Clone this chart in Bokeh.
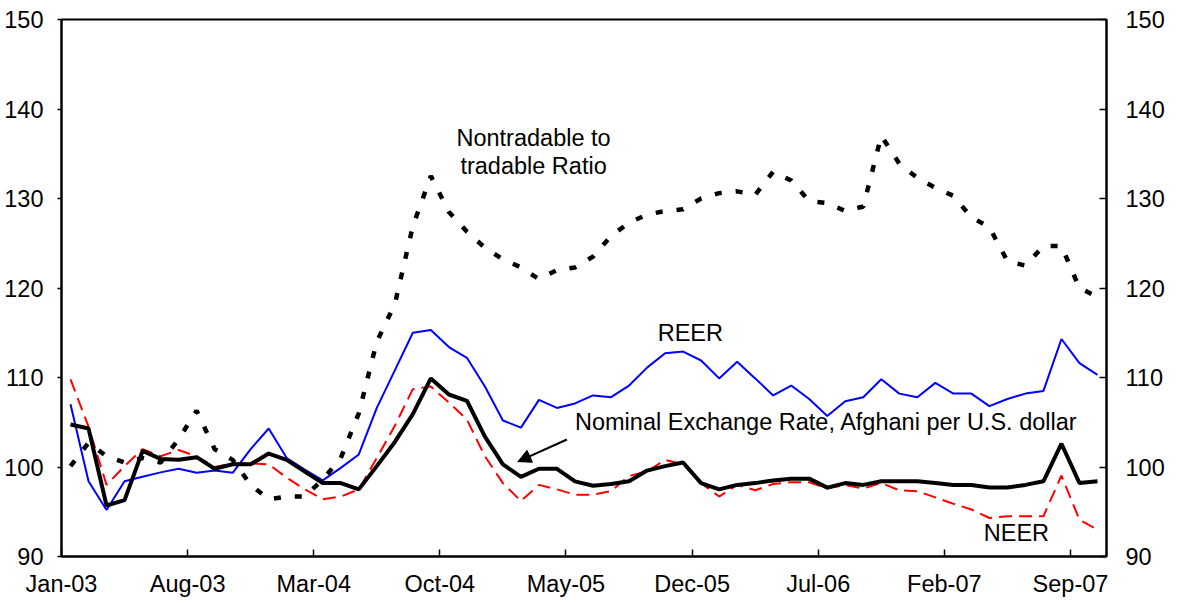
from bokeh.plotting import figure
from bokeh.models import Range1d, LinearAxis, FixedTicker, Arrow, NormalHead, ColumnDataSource
from bokeh.core.properties import value
from bokeh.embed import file_html
from bokeh.resources import INLINE

# ---- data (monthly, Jan-03 .. Oct-07) ----
nominal = [104.75, 104.3, 95.7, 96.3, 101.8, 100.9, 100.8, 101.1, 99.8, 100.3,
           100.3, 101.5, 100.8, 99.5, 98.2, 98.2, 97.5, 100.1, 102.8, 105.9,
           109.9, 108.1, 107.4, 103.4, 100.3, 98.9, 99.8, 99.8, 98.4, 97.9,
           98.1, 98.4, 99.6, 100.1, 100.5, 98.2, 97.5, 98.0, 98.2, 98.5,
           98.7, 98.7, 97.7, 98.2, 98.0, 98.4, 98.4, 98.4, 98.2, 98.0,
           98.0, 97.7, 97.7, 98.0, 98.4, 102.6, 98.2, 98.4]
reer = [107.0, 98.4, 95.2, 98.4, 98.9, 99.4, 99.8, 99.35, 99.6, 99.35,
        102.0, 104.3, 101.0, 99.7, 98.5, 99.9, 101.4, 106.6, 110.8, 115.0,
        115.3, 113.4, 112.2, 109.0, 105.2, 104.4, 107.5, 106.6, 107.1, 108.0,
        107.8, 109.1, 111.1, 112.7, 112.9, 111.9, 109.9, 111.75, 109.9, 108.0,
        109.1, 107.6, 105.7, 107.35, 107.8, 109.8, 108.2, 107.8, 109.4, 108.2,
        108.2, 106.8, 107.6, 108.2, 108.5, 114.3, 111.6, 110.3]
neer = [109.8, 104.5, 98.0, 100.1, 102.0, 101.2, 101.9, 101.2, 100.0, 100.4,
        100.4, 100.3, 98.8, 97.5, 96.4, 96.7, 97.5, 101.0, 104.6, 108.7,
        109.0, 107.2, 105.3, 101.2, 98.2, 96.2, 98.0, 97.5, 96.9, 96.9,
        97.3, 99.0, 99.5, 100.8, 100.3, 98.2, 96.7, 98.0, 97.4, 98.1,
        98.3, 98.3, 97.6, 98.0, 97.6, 98.2, 97.4, 97.3, 96.6, 95.9,
        95.25, 94.3, 94.5, 94.5, 94.5, 99.05, 94.1, 93.0]
nontradable = [100.1, 102.7, 101.2, 100.5, 101.0, 100.5, 103.1, 106.3, 102.0, 100.8,
               98.0, 96.4, 96.7, 96.7, 98.6, 101.0, 106.0, 114.0, 118.2, 126.9,
               132.5, 128.5, 126.3, 124.5, 123.2, 122.3, 121.0, 122.0, 122.3, 123.5,
               125.8, 127.3, 128.2, 128.6, 128.8, 130.0, 130.6, 130.8, 130.4, 133.0,
               132.0, 129.7, 129.5, 128.6, 129.1, 137.0, 133.9, 132.3, 131.2, 130.3,
               127.9, 126.8, 123.0, 122.5, 124.7, 124.7, 120.0, 119.0]
tick_months = [0, 7, 14, 21, 28, 35, 42, 49, 56]
tick_labels = ["Jan-03", "Aug-03", "Mar-04", "Oct-04", "May-05", "Dec-05", "Jul-06", "Feb-07", "Sep-07"]
y_ticks = [90, 100, 110, 120, 130, 140, 150]

months = [i + 0.5 for i in range(len(nominal))]
src = ColumnDataSource(dict(x=months, nominal=nominal, reer=reer, neer=neer, nt=nontradable))

FONT = "Liberation Sans"
FS = "23.5px"

p = figure(frame_width=1045, frame_height=537,
           x_range=Range1d(0, 58), y_range=Range1d(90, 150),
           output_backend="svg", toolbar_location=None,
           min_border_left=61, min_border_right=60, min_border_top=19, min_border_bottom=38)
p.background_fill_color = "white"
p.border_fill_color = "white"
p.outline_line_color = "black"
p.outline_line_width = 2
p.xgrid.visible = False
p.ygrid.visible = False

# series
p.line("x", "reer", source=src, line_color="#0000FF", line_width=2)
p.line("x", "neer", source=src, line_color="#FF0000", line_width=2, line_dash="13 7")
p.line("x", "nt", source=src, line_color="black", line_width=4.5, line_dash="7 14")
p.line("x", "nominal", source=src, line_color="black", line_width=4)

# axes
xa = p.xaxis[0]
xa.ticker = FixedTicker(ticks=tick_months)
xa.major_label_overrides = {m: l for m, l in zip(tick_months, tick_labels)}
xa.minor_tick_line_color = None
xa.major_tick_in = 7
xa.major_tick_out = 0
xa.axis_line_width = 2
xa.major_tick_line_width = 1.5
xa.major_label_standoff = 14
xa.major_label_text_font = FONT
xa.major_label_text_font_size = FS
xa.major_label_text_color = "black"

ya = p.yaxis[0]
ya.ticker = FixedTicker(ticks=y_ticks)
ya.minor_tick_line_color = None
ya.major_tick_in = 0
ya.major_tick_out = 4
ya.axis_line_width = 2
ya.major_tick_line_width = 1.5
ya.major_label_standoff = 14
ya.major_label_text_font = FONT
ya.major_label_text_font_size = FS
ya.major_label_text_color = "black"

ra = LinearAxis(ticker=FixedTicker(ticks=y_ticks))
ra.minor_tick_line_color = None
ra.major_tick_in = 7
ra.major_tick_out = 0
ra.axis_line_width = 2
ra.major_tick_line_width = 1.5
ra.major_label_standoff = 19
ra.major_label_text_font = FONT
ra.major_label_text_font_size = FS
ra.major_label_text_color = "black"
p.add_layout(ra, "right")

# annotations
def label(x, y, t, align="center"):
    p.text(x=[x], y=[y], text=[t], text_font=value(FONT), text_font_size=FS,
           text_color="black", text_align=align, text_baseline="middle")

label(26.2, 136.8, "Nontradable to")
label(26.2, 133.6, "tradable Ratio")
label(34.9, 115.0, "REER")
label(28.5, 105.0, "Nominal Exchange Rate, Afghani per U.S. dollar", align="left")
label(53.0, 92.6, "NEER")

p.add_layout(Arrow(end=NormalHead(size=13, fill_color="black", line_color="black"),
                   x_start=28.05, y_start=103.07, x_end=25.33, y_end=100.6,
                   line_color="black", line_width=2))

open("out.html", "w").write(file_html(p, INLINE))
